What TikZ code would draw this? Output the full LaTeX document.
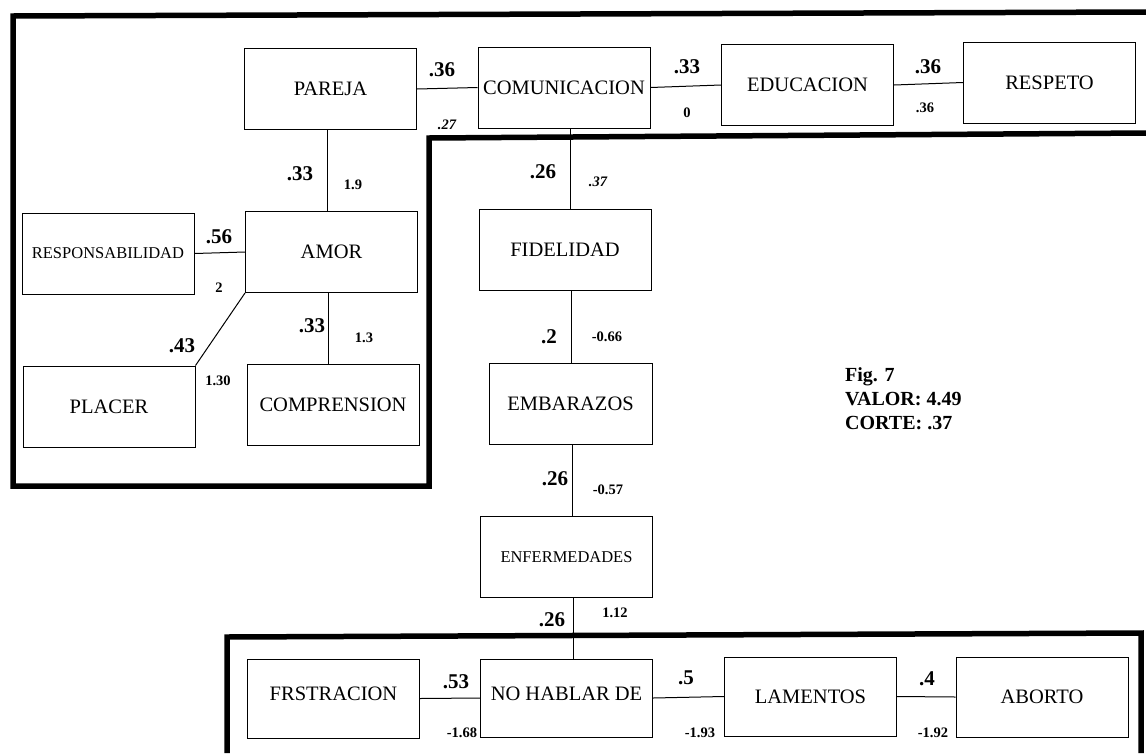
\documentclass[tikz,border=0pt]{standalone}
\usepackage{fontspec}
\setmainfont{Liberation Serif}
\usepackage[table]{xcolor}
\usepackage{tikz}

\tikzset{
	concept/.style={draw=black, line width=1pt, solid, minimum width=172pt, minimum height=81pt, inner sep=0pt, font=\fontsize{20.5}{24}\selectfont},
	smallconcept/.style={concept, font=\fontsize{16.5}{19}\selectfont},
	link/.style={draw=black, line width=1pt, solid},
	frame/.style={draw=black, line width=5.5pt, solid},
	bigweight/.style={black, inner sep=0pt, font=\bfseries\fontsize{21}{24}\selectfont},
	smallweight/.style={black, inner sep=0pt, font=\bfseries\fontsize{14.5}{16}\selectfont},
	italweight/.style={smallweight, font=\bfseries\itshape\fontsize{14.5}{16}\selectfont},
}

\begin{document}
\begin{tikzpicture}[x=1pt, y=-1pt]
		\useasboundingbox (0,0) rectangle (1146,753);
		% frames
		\draw[frame] (1146.00,12.00) -- (13.00,16.00) -- (13.00,486.00) -- (429.00,486.00) -- (429.00,138.00) -- (1146.00,133.00);
		\draw[frame] (227.00,753.00) -- (227.00,637.00) -- (1141.00,633.00) -- (1141.00,753.00);
		% concepts
		\node[concept] (pareja) at (330.50,89.00) {PAREJA};
		\node[concept] (comunicacion) at (564.00,87.50) {COMUNICACION};
		\node[concept] (educacion) at (807.50,85.00) {EDUCACION};
		\node[concept] (respeto) at (1049.50,82.50) {RESPETO};
		\node[smallconcept] (responsabilidad) at (108.00,253.50) {RESPONSABILIDAD};
		\node[concept] (amor) at (331.50,252.00) {AMOR};
		\node[concept] (placer) at (109.00,406.50) {PLACER};
		\node[concept] (comprension) at (333.00,405.00) {COMPRENSION};
		\node[concept] (fidelidad) at (565.00,250.00) {FIDELIDAD};
		\node[concept, minimum width=163pt] (embarazos) at (570.50,404.00) {EMBARAZOS};
		\node[smallconcept] (enfermedades) at (566.50,557.00) {ENFERMEDADES};
		\node[concept, minimum height=78pt] (nohablar) at (566.50,698.00) {\raisebox{8pt}{NO HABLAR DE}};
		\node[concept, minimum height=79pt] (frustracion) at (333.50,698.50) {\raisebox{9pt}{FRSTRACION}};
		\node[concept, minimum height=79pt] (lamentos) at (810.50,696.50) {LAMENTOS};
		\node[concept, minimum height=80pt] (aborto) at (1042.00,697.00) {ABORTO};
		% links
		\draw[link] (pareja.east) -- (comunicacion.west);
		\draw[link] (comunicacion.east) -- (educacion.west);
		\draw[link] (educacion.east) -- (respeto.west);
		\draw[link] ([xshift=-3.5pt]pareja.south) -- ([xshift=-4.5pt]amor.north);
		\draw[link] (responsabilidad.east) -- (amor.west);
		\draw[link] (amor.south west) -- (placer.north east);
		\draw[link] ([xshift=-3.5pt]amor.south) -- ([xshift=-5pt]comprension.north);
		\draw[link] ([xshift=6pt]comunicacion.south) -- ([xshift=5pt]fidelidad.north);
		\draw[link] ([xshift=6pt]fidelidad.south) -- ([xshift=0.5pt]embarazos.north);
		\draw[link] ([xshift=1.5pt]embarazos.south) -- ([xshift=5.5pt]enfermedades.north);
		\draw[link] ([xshift=6.5pt]enfermedades.south) -- ([xshift=6.5pt]nohablar.north);
		\draw[link] (frustracion.east) -- (nohablar.west);
		\draw[link] (nohablar.east) -- (lamentos.west);
		\draw[link] (lamentos.east) -- (aborto.west);
		% weights
		\node[bigweight] (wpc) at (442.00,70.00) {.36};
		\node[italweight] (wpcb) at (447.00,125.00) {.27};
		\node[bigweight] (wce) at (687.00,67.00) {.33};
		\node[smallweight] (wceb) at (687.00,113.00) {0};
		\node[bigweight] (wer) at (928.00,67.00) {.36};
		\node[smallweight] (werb) at (925.00,108.00) {.36};
		\node[bigweight] (wpa) at (300.00,174.00) {.33};
		\node[smallweight] (wpab) at (353.00,185.00) {1.9};
		\node[bigweight] (wcf) at (543.00,172.00) {.26};
		\node[italweight] (wcfb) at (598.00,182.00) {.37};
		\node[bigweight] (wra) at (219.00,237.00) {.56};
		\node[smallweight] (wrab) at (219.00,288.00) {2};
		\node[bigweight] (wap) at (182.00,346.00) {.43};
		\node[smallweight] (wapb) at (218.00,381.00) {1.30};
		\node[bigweight] (wac) at (312.00,326.00) {.33};
		\node[smallweight] (wacb) at (364.00,338.00) {1.3};
		\node[bigweight] (wfe) at (549.00,337.00) {.2};
		\node[smallweight] (wfeb) at (607.00,337.00) {-0.66};
		\node[bigweight] (wen) at (555.00,479.00) {.26};
		\node[smallweight] (wenb) at (608.00,490.00) {-0.57};
		\node[bigweight] (wno) at (552.00,620.00) {.26};
		\node[smallweight] (wnob) at (615.00,613.00) {1.12};
		\node[bigweight] (wfn) at (456.00,682.00) {.53};
		\node[smallweight] (wfnb) at (462.00,733.00) {-1.68};
		\node[bigweight] (wnl) at (686.00,678.00) {.5};
		\node[smallweight] (wnlb) at (700.00,733.00) {-1.93};
		\node[bigweight] (wla) at (927.00,679.00) {.4};
		\node[smallweight] (wlab) at (933.00,733.00) {-1.92};
		% caption
		\node[black, anchor=west, align=left, inner sep=0pt, font=\bfseries\fontsize{20}{24}\selectfont] (caption) at (845.00,399.00) {Fig. 7\\VALOR: 4.49\\CORTE: .37};
	\end{tikzpicture}
\end{document}
